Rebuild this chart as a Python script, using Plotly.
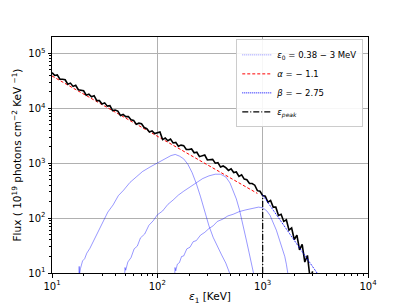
import numpy as np
import plotly.graph_objects as go

# ---- data (log10 values) ----
black_log_e = [1.000, 1.025, 1.050, 1.075, 1.100, 1.125, 1.150, 1.175, 1.200, 1.225,
               1.250, 1.275, 1.300, 1.325, 1.350, 1.375, 1.400, 1.425, 1.450, 1.475,
               1.500, 1.525, 1.550, 1.575, 1.600, 1.625, 1.650, 1.675, 1.700, 1.725,
               1.750, 1.775, 1.800, 1.825, 1.850, 1.875, 1.900, 1.925, 1.950, 1.975,
               2.000, 2.025, 2.050, 2.075, 2.100, 2.125, 2.150, 2.175, 2.200, 2.225,
               2.250, 2.275, 2.300, 2.325, 2.350, 2.375, 2.400, 2.425, 2.450, 2.475,
               2.500, 2.525, 2.550, 2.575, 2.600, 2.625, 2.650, 2.675, 2.700, 2.725,
               2.750, 2.775, 2.800, 2.825, 2.850, 2.875, 2.900, 2.925, 2.950, 2.975,
               3.000, 3.025, 3.050, 3.075, 3.100, 3.125, 3.150, 3.175, 3.200, 3.225,
               3.250, 3.275, 3.300, 3.325, 3.350, 3.375, 3.400, 3.425, 3.450, 3.475]
black_log_f = [4.65, 4.60, 4.61, 4.53, 4.53, 4.52, 4.44, 4.46, 4.40, 4.42,
               4.34, 4.33, 4.32, 4.24, 4.26, 4.21, 4.23, 4.14, 4.14, 4.08,
               4.10, 4.04, 4.05, 3.96, 3.97, 3.95, 3.87, 3.89, 3.85, 3.85,
               3.79, 3.78, 3.71, 3.73, 3.72, 3.65, 3.63, 3.57, 3.59, 3.54,
               3.55, 3.57, 3.43, 3.46, 3.41, 3.44, 3.37, 3.38, 3.31, 3.33,
               3.32, 3.25, 3.25, 3.26, 3.19, 3.20, 3.12, 3.14, 3.15, 3.06,
               3.07, 3.07, 3.00, 3.01, 2.93, 2.95, 2.92, 2.87, 2.90, 2.83,
               2.84, 2.76, 2.79, 2.71, 2.70, 2.63, 2.63, 2.60, 2.50, 2.49,
               2.41, 2.40, 2.29, 2.32, 2.20, 2.20, 2.05, 2.07, 1.94, 1.97,
               1.78, 1.82, 1.61, 1.69, 1.42, 1.52, 1.20, 1.32, 0.90, 1.03]

comp1_log_e = [1.255, 1.258, 1.262, 1.27, 1.29, 1.31, 1.33, 1.36, 1.39, 1.42, 1.45, 1.49,
               1.53, 1.58, 1.63, 1.68, 1.74, 1.80, 1.86, 1.93, 2.00, 2.07, 2.13, 2.17,
               2.21, 2.25, 2.29, 2.33, 2.37, 2.41, 2.45, 2.49, 2.53, 2.57, 2.61, 2.65, 2.69]
comp1_log_f = [0.95, 1.12, 0.98, 1.08, 1.22, 1.26, 1.36, 1.45, 1.57, 1.68, 1.82, 1.96,
               2.11, 2.24, 2.41, 2.51, 2.65, 2.75, 2.85, 2.93, 3.00, 3.07, 3.14, 3.16,
               3.13, 3.08, 2.98, 2.83, 2.63, 2.39, 2.10, 1.86, 1.65, 1.48, 1.33, 1.18, 0.98]

comp2_log_e = [1.690, 1.693, 1.70, 1.72, 1.75, 1.78, 1.81, 1.84, 1.88, 1.92, 1.96, 2.00,
               2.05, 2.10, 2.15, 2.20, 2.25, 2.31, 2.37, 2.43, 2.49, 2.55, 2.60, 2.65,
               2.69, 2.72, 2.75, 2.78, 2.81, 2.845, 2.87, 2.89, 2.915]
comp2_log_f = [0.95, 1.10, 1.05, 1.20, 1.28, 1.44, 1.49, 1.64, 1.71, 1.87, 1.95, 2.06,
               2.13, 2.25, 2.33, 2.42, 2.49, 2.57, 2.65, 2.72, 2.77, 2.80, 2.80, 2.75,
               2.64, 2.51, 2.35, 2.15, 1.92, 1.60, 1.38, 1.18, 0.98]

comp3_log_e = [2.165, 2.168, 2.175, 2.19, 2.21, 2.23, 2.25, 2.28, 2.31, 2.34, 2.37, 2.41,
               2.45, 2.49, 2.53, 2.57, 2.62, 2.67, 2.72, 2.78, 2.84, 2.90, 2.96, 3.00,
               3.04, 3.07, 3.10, 3.13, 3.16, 3.19, 3.21, 3.225, 3.24]
comp3_log_f = [0.95, 1.10, 1.04, 1.16, 1.19, 1.30, 1.31, 1.44, 1.47, 1.57, 1.59, 1.69,
               1.74, 1.81, 1.86, 1.94, 1.98, 2.04, 2.07, 2.12, 2.15, 2.18, 2.20, 2.19,
               2.13, 2.05, 1.93, 1.78, 1.60, 1.42, 1.30, 1.16, 0.98]

alpha_log_e = [1.0, 2.95]
alpha_log_f = [4.59, 2.45]
beta_log_e = [3.0, 3.6]
beta_log_f = [2.42, 0.77]
epeak_kev = [1000, 1000]
epeak_flux = [10, 240]

legend_names = ["<i>ε</i><sub>0</sub> = 0.38 − 3 MeV", "<i>α</i> = − 1.1",
                "<i>β</i> = − 2.75", "<i>ε</i><sub><i>peak</i></sub>"]

x_tick_vals = [10, 100, 1000, 10000]
x_tick_text = ["10<sup>1</sup>", "10<sup>2</sup>", "10<sup>3</sup>", "10<sup>4</sup>"]
y_tick_vals = [10, 100, 1000, 10000, 100000]
y_tick_text = ["10<sup>1</sup>", "10<sup>2</sup>", "10<sup>3</sup>", "10<sup>4</sup>", "10<sup>5</sup>"]
minor_x = [m * d for d in (10, 100, 1000) for m in range(2, 10)]
minor_y = [m * d for d in (10, 100, 1000, 10000, 100000) for m in range(2, 10)]


def p10(a):
    return np.power(10.0, np.array(a))


comp_color = "rgba(0,0,255,0.45)"
fig = go.Figure()
for le, lf in [(comp1_log_e, comp1_log_f), (comp2_log_e, comp2_log_f), (comp3_log_e, comp3_log_f)]:
    fig.add_trace(go.Scatter(x=p10(le), y=p10(lf), mode="lines",
                             line=dict(color=comp_color, width=0.9), showlegend=False))
fig.add_trace(go.Scatter(x=p10(alpha_log_e), y=p10(alpha_log_f), mode="lines",
                         line=dict(color="red", width=1, dash="3px,2px"), showlegend=False))
fig.add_trace(go.Scatter(x=p10(black_log_e), y=p10(black_log_f), mode="lines",
                         line=dict(color="black", width=1.6), showlegend=False))
fig.add_trace(go.Scatter(x=p10(beta_log_e), y=p10(beta_log_f), mode="lines",
                         line=dict(color="blue", width=1, dash="1px,1px"), showlegend=False))
fig.add_trace(go.Scatter(x=epeak_kev, y=epeak_flux, mode="lines",
                         line=dict(color="black", width=1.2, dash="6px,2px,1px,2px"), showlegend=False))

# legend entries
leg_styles = [dict(color=comp_color, width=1, dash="1px,1px"),
              dict(color="red", width=1, dash="3px,2px"),
              dict(color="blue", width=1, dash="1px,1px"),
              dict(color="black", width=1.4, dash="6px,2px,1px,2px")]
for name, st in zip(legend_names, leg_styles):
    fig.add_trace(go.Scatter(x=[None], y=[None], mode="lines", line=st, name=name, showlegend=True))

axis_common = dict(type="log", showline=True, mirror=True, linecolor="black", linewidth=1,
                   ticks="outside", ticklen=3.5, tickcolor="black", automargin=False,
                   showgrid=True, gridcolor="#b0b0b0", gridwidth=1, zeroline=False,
                   tickfont=dict(size=10, color="black"))

fig.update_xaxes(range=[1, 4], tickmode="array", tickvals=x_tick_vals, ticktext=x_tick_text,
                 minor=dict(ticks="outside", ticklen=2, tickcolor="black", showgrid=False,
                            tickmode="array", tickvals=minor_x),
                 title=dict(text="<i>ε</i><sub>1</sub> [KeV]", font=dict(size=10.5, color="black"), standoff=2),
                 **axis_common)
fig.update_yaxes(range=[1, 5.3], tickmode="array", tickvals=y_tick_vals, ticktext=y_tick_text,
                 minor=dict(ticks="outside", ticklen=2, tickcolor="black", showgrid=False,
                            tickmode="array", tickvals=minor_y),
                 title=dict(text="Flux ( 10<sup>19</sup> photons cm<sup>−2</sup> KeV <sup>−1</sup>)",
                            font=dict(size=10.5, color="black"), standoff=4),
                 **axis_common)

# the page body has an 8 px margin, so the figure is sized/offset to compensate
fig.update_layout(
    width=401, height=299,
    margin=dict(l=44, r=41, t=29, b=34),
    paper_bgcolor="white", plot_bgcolor="white",
    font=dict(family="DejaVu Sans", size=10, color="black"),
    legend=dict(x=0.985, y=0.99, xanchor="right", yanchor="top",
                bgcolor="rgba(255,255,255,0.9)", bordercolor="#cccccc", borderwidth=1,
                font=dict(size=8.5), itemwidth=30, tracegroupgap=0),
)

fig.write_html("out.html")
